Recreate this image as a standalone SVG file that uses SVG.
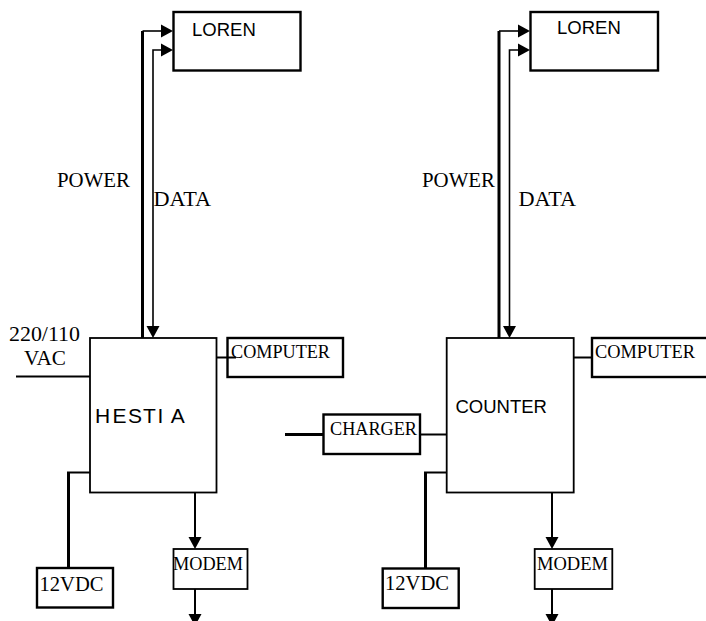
<svg xmlns="http://www.w3.org/2000/svg" width="706" height="621" viewBox="0 0 706 621">
<style>
.box{fill:#fff;stroke:#000;stroke-width:2.400}
.main{fill:#fff;stroke:#000;stroke-width:1.800}
.t{font-family:"Liberation Serif",serif;fill:#000;font-size:19.800px}
.l{font-family:"Liberation Serif",serif;fill:#000;font-size:21px}
.s{font-family:"Liberation Sans",sans-serif;fill:#000;font-size:18.500px}
.c{fill:none;stroke:#000;stroke-width:1.600}
.h{fill:none;stroke:#000;stroke-width:3}
.m{fill:none;stroke:#000;stroke-width:2}
.a{fill:#000;stroke:none}
</style>
<defs>
<path id="ar" class="a" d="M-12-6.500L0 0L-12 6.500Z"/>
<path id="ad" class="a" d="M-6.500-12L0 0L6.500-12Z"/>
</defs>
<g id="connectors">
<path class="h" d="M142.500 338V31"/><path class="c" d="M142.500 31H162"/><use href="#ar" x="173" y="31"/>
<path class="c" d="M153 327V50H162"/><use href="#ar" x="173" y="50"/><use href="#ad" x="153" y="338"/>
<path class="m" d="M16 376.500H90"/>
<path class="h" d="M68.500 568V473"/><path class="m" d="M67 472.500H90"/>
<path class="m" d="M195 491V538"/><use href="#ad" x="195" y="549"/>
<path class="h" d="M499 338V31"/><path class="c" d="M499 31H519"/><use href="#ar" x="530" y="31"/>
<path class="c" d="M509.500 327V50H519"/><use href="#ar" x="530" y="50"/><use href="#ad" x="509.500" y="338"/>
<path class="h" d="M285 434.500H323"/>
<path class="m" d="M420 434.500H447"/>
<path class="m" d="M574 357.500H592"/>
<path class="h" d="M425.500 568V473"/><path class="m" d="M424 472.500H447"/>
<path class="m" d="M552 491V538"/><use href="#ad" x="552" y="549"/>
<path class="m" d="M552 587V616"/><use href="#ad" x="552" y="626"/>
<path class="m" d="M195 587V616"/><use href="#ad" x="195" y="626"/>
</g>
<g id="loren-left"><rect class="box" x="173.500" y="12" width="127" height="58.500"/><text class="s" x="192" y="35.700">LOREN</text></g>
<g id="hestia"><rect class="main" x="90" y="338" width="126.500" height="154.500"/><text class="s" style="font-size:21px" x="95 112.500 128 143 157.500 170.700" y="422.700">HESTIA</text></g>
<g id="computer-left"><rect class="box" x="227.500" y="338" width="115.500" height="39"/><path class="m" d="M217 357.500H236"/><text class="t" x="231" y="358" textLength="99" lengthAdjust="spacingAndGlyphs">COMPUTER</text></g>
<g id="modem-left"><rect class="main" x="173.500" y="549" width="74" height="40"/><text class="t" x="173" y="570" textLength="70" lengthAdjust="spacingAndGlyphs">MODEM</text></g>
<g id="vdc-left"><rect class="box" x="37" y="568" width="76" height="39.500"/><text class="l" x="39.500" y="590.500" textLength="64" lengthAdjust="spacingAndGlyphs">12VDC</text></g>
<g id="label-power-left"><text class="l" x="57" y="187" textLength="73" lengthAdjust="spacingAndGlyphs">POWER</text></g>
<g id="label-data-left"><text class="l" x="153.500" y="206" textLength="57.500" lengthAdjust="spacingAndGlyphs">DATA</text></g>
<g id="label-vac"><text class="l" x="9" y="341" textLength="71" lengthAdjust="spacingAndGlyphs">220/110</text><text class="l" x="24" y="365" textLength="42" lengthAdjust="spacingAndGlyphs">VAC</text></g>
<g id="loren-right"><rect class="box" x="530.500" y="12" width="127.500" height="58.500"/><text class="s" x="557" y="34">LOREN</text></g>
<g id="counter"><rect class="main" x="446.700" y="338" width="127" height="154.500"/><text class="s" x="455.500" y="412.700">COUNTER</text></g>
<g id="computer-right"><rect class="box" x="592" y="338" width="120" height="39"/><text class="t" x="595" y="358" textLength="100" lengthAdjust="spacingAndGlyphs">COMPUTER</text></g>
<g id="charger"><rect class="box" x="323.500" y="414.500" width="96.500" height="39.500"/><text class="t" x="330" y="435" textLength="87" lengthAdjust="spacingAndGlyphs">CHARGER</text></g>
<g id="modem-right"><rect class="main" x="534.700" y="549" width="77.600" height="40"/><text class="t" x="537" y="570" textLength="71" lengthAdjust="spacingAndGlyphs">MODEM</text></g>
<g id="vdc-right"><rect class="box" x="382.700" y="568.500" width="76" height="39.500"/><text class="l" x="385" y="590" textLength="64" lengthAdjust="spacingAndGlyphs">12VDC</text></g>
<g id="label-power-right"><text class="l" x="422" y="187" textLength="73" lengthAdjust="spacingAndGlyphs">POWER</text></g>
<g id="label-data-right"><text class="l" x="518.500" y="206" textLength="57.500" lengthAdjust="spacingAndGlyphs">DATA</text></g>
</svg>
